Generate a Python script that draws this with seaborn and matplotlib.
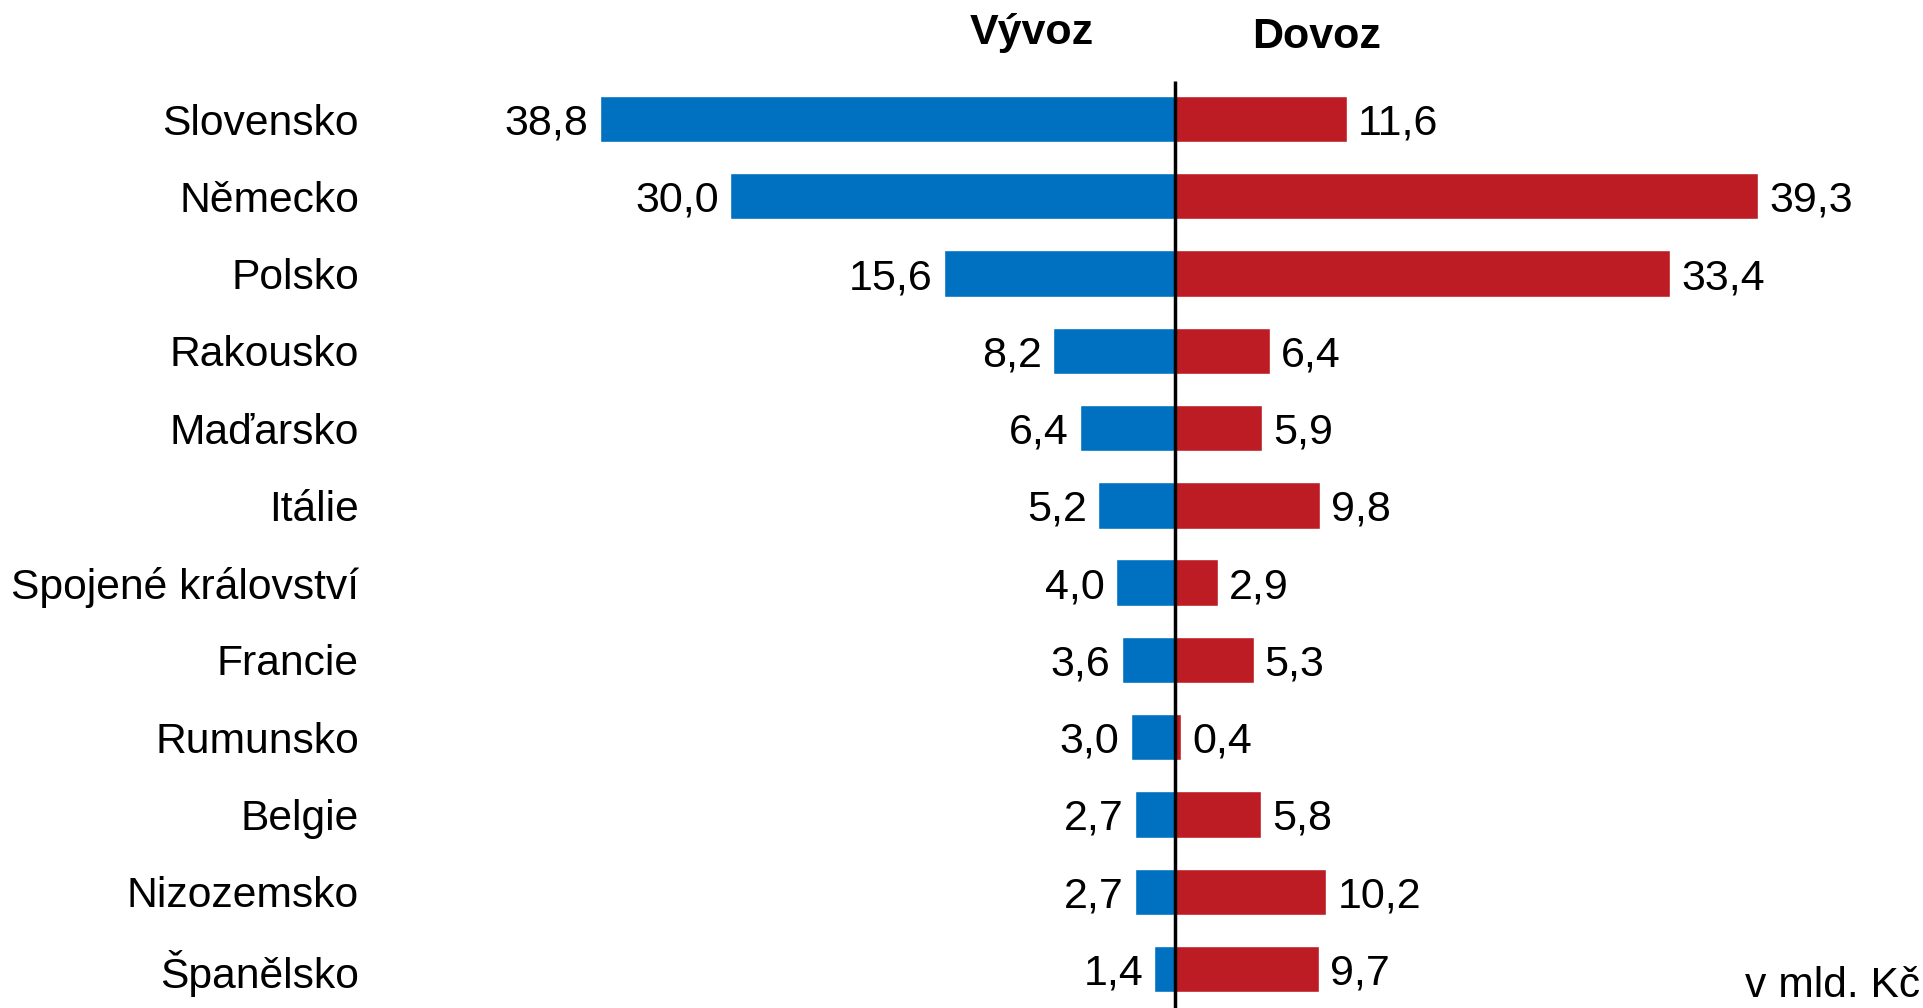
import seaborn as sns
import matplotlib.pyplot as plt
import pandas as pd

countries = ["Slovensko", "Německo", "Polsko", "Rakousko", "Maďarsko", "Itálie",
             "Spojené království", "Francie", "Rumunsko", "Belgie", "Nizozemsko", "Španělsko"]
export = [38.8, 30.0, 15.6, 8.2, 6.4, 5.2, 4.0, 3.6, 3.0, 2.7, 2.7, 1.4]
imports = [11.6, 39.3, 33.4, 6.4, 5.9, 9.8, 2.9, 5.3, 0.4, 5.8, 10.2, 9.7]

BLUE = "#0070C0"
RED = "#BE1C24"

sns.set_style("white")
plt.rcParams['font.family'] = ['Liberation Sans', 'DejaVu Sans']
plt.rcParams['text.color'] = "black"
plt.rcParams['ytick.color'] = "black"

df = pd.DataFrame({"country": countries, "export": [-v for v in export], "import": imports})

fig = plt.figure(figsize=(19.24, 10.08), dpi=100)
ax = fig.add_axes([370 / 1924, 0, 1 - 370 / 1924, 1])

sns.barplot(data=df, x="export", y="country", orient="h", color=BLUE, width=0.6,
            saturation=1, ax=ax)
sns.barplot(data=df, x="import", y="country", orient="h", color=RED, width=0.6,
            saturation=1, ax=ax)

# scale: ~14.83 px per unit, zero at pixel 1175
ax.set_xlim((370 - 1175) / 14.83, (1924 - 1175) / 14.83)
row = 77.27
ax.set_ylim(11 + (1008 - 969) / row, -119 / row)

# value labels with decimal comma
fmt = lambda v: f"{v:.1f}".replace(".", ",")
for cont, vals in [(ax.containers[0], export), (ax.containers[1], imports)]:
    anns = ax.bar_label(cont, labels=[fmt(v) for v in vals], padding=8, fontsize=31, color="black")
    for a in anns:
        a.set_verticalalignment("center_baseline")

# zero line
ymin, ymax = ax.get_ylim()
ax.vlines(0, -0.49, ymin, color="black", linewidth=2.5, zorder=5)

for s in ax.spines.values():
    s.set_visible(False)
ax.set_xticks([])
ax.set_xlabel("")
ax.set_ylabel("")
ax.tick_params(axis="y", length=0, pad=8, labelsize=30.7, labelcolor="black")

fig.text(1032 / 1924, 1 - 33 / 1008, "Vývoz", ha="center", va="center", fontsize=31, fontweight="bold")
fig.text(1317 / 1924, 1 - 37 / 1008, "Dovoz", ha="center", va="center", fontsize=31, fontweight="bold")
fig.text(1920 / 1924, 2 / 1008, "v mld. Kč", ha="right", va="bottom", fontsize=30.7)

fig.savefig("out.png", dpi=100)
